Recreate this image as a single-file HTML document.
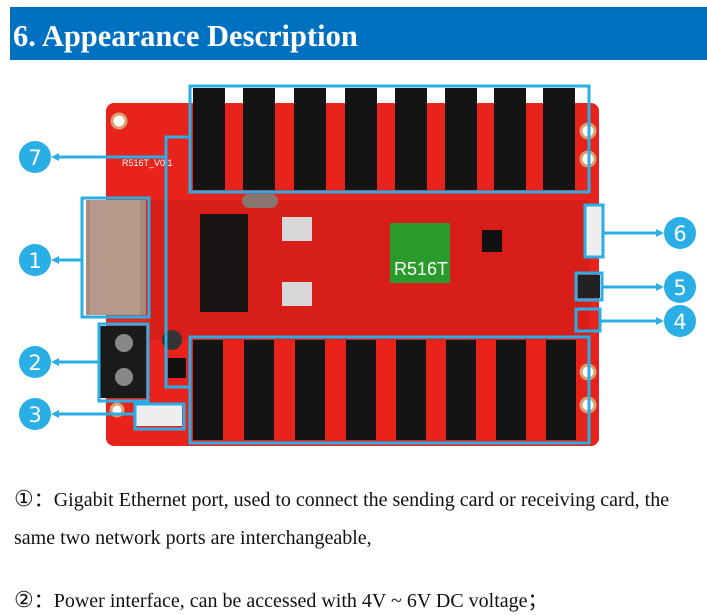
<!DOCTYPE html>
<html><head><meta charset="utf-8"><style>
body{margin:0;width:707px;height:615px;background:#fff;overflow:hidden;font-family:"Liberation Serif",serif;}
.t{position:absolute;left:14px;font-size:20px;color:#111;white-space:nowrap;}
</style></head><body>
<svg width="707" height="615" style="position:absolute;left:0;top:0" xmlns="http://www.w3.org/2000/svg">
<rect x="10" y="7" width="697" height="53" fill="#0070c0"/>
<text x="13" y="46" font-family="Liberation Serif" font-weight="bold" font-size="30.5" fill="#fff">6.  Appearance Description</text>
<rect x="106" y="103" width="493" height="343" rx="8" fill="#e8231c"/>
<rect x="150" y="200" width="440" height="140" fill="#d81e18"/>
<circle cx="119" cy="121" r="7" fill="#fff" stroke="#d9a070" stroke-width="3"/>
<circle cx="588" cy="131" r="7" fill="#fff" stroke="#d9a070" stroke-width="3"/>
<circle cx="588" cy="159" r="7" fill="#fff" stroke="#d9a070" stroke-width="3"/>
<circle cx="588" cy="372" r="7" fill="#fff" stroke="#d9a070" stroke-width="3"/>
<circle cx="588" cy="405" r="7" fill="#fff" stroke="#d9a070" stroke-width="3"/>
<circle cx="117" cy="410" r="6" fill="#fff" stroke="#d9a070" stroke-width="3"/>
<text x="122" y="166" font-family="Liberation Sans" font-size="9" fill="#fff">R516T_V0.1</text>
<rect x="86" y="200" width="60" height="115" fill="#a8897a"/>
<rect x="90" y="200" width="50" height="115" fill="#b59a8c"/>
<rect x="200" y="214" width="48" height="98" fill="#1a1414"/>
<rect x="282" y="217" width="30" height="24" fill="#d8d8d8"/>
<rect x="282" y="282" width="30" height="24" fill="#d8d8d8"/>
<rect x="242" y="194" width="36" height="14" rx="7" fill="#8a7570"/>
<rect x="390" y="223" width="60" height="60" fill="#2a9a2a"/>
<text x="394" y="275" font-family="Liberation Sans" font-size="18" fill="#fff">R516T</text>
<rect x="482" y="230" width="20" height="22" fill="#111"/>
<rect x="100" y="326" width="46" height="72" fill="#1a1a1a"/>
<circle cx="124" cy="343" r="9" fill="#888"/><circle cx="124" cy="377" r="9" fill="#888"/>
<circle cx="172" cy="340" r="10" fill="#333"/>
<rect x="168" y="358" width="18" height="20" fill="#111"/>
<rect x="136" y="405" width="46" height="21" fill="#eee"/>
<g fill="#141414">
<rect x="193" y="88" width="32" height="102"/><rect x="243" y="88" width="32" height="102"/><rect x="294" y="88" width="32" height="102"/><rect x="345" y="88" width="32" height="102"/><rect x="395" y="88" width="32" height="102"/><rect x="445" y="88" width="32" height="102"/><rect x="494" y="88" width="32" height="102"/><rect x="543" y="88" width="32" height="102"/>
<rect x="193" y="340" width="30" height="100"/><rect x="244" y="340" width="30" height="100"/><rect x="295" y="340" width="30" height="100"/><rect x="346" y="340" width="30" height="100"/><rect x="396" y="340" width="30" height="100"/><rect x="446" y="340" width="30" height="100"/><rect x="496" y="340" width="30" height="100"/><rect x="546" y="340" width="30" height="100"/>
</g>
<rect x="585" y="205" width="17" height="52" fill="#eee"/>
<rect x="578" y="275" width="22" height="23" fill="#222"/>
<g fill="none" stroke="#29aee6" stroke-width="3">
<rect x="190" y="86" width="399" height="106"/>
<rect x="190" y="337" width="399" height="106"/>
<rect x="82" y="198" width="67" height="119"/>
<rect x="99" y="324" width="49" height="77"/>
<rect x="135" y="404" width="49" height="25"/>
<rect x="585" y="205" width="18" height="52"/>
<rect x="576" y="273" width="26" height="27"/>
<rect x="576" y="309" width="24" height="22"/>
<polyline points="190,137 166,137 166,387 190,387"/>
<line x1="166" y1="157" x2="55" y2="157"/>
<line x1="82" y1="260" x2="55" y2="260"/>
<line x1="99" y1="362" x2="55" y2="362"/>
<line x1="135" y1="414" x2="55" y2="414"/>
<line x1="603" y1="233" x2="658" y2="233"/>
<line x1="602" y1="287" x2="658" y2="287"/>
<line x1="600" y1="321" x2="658" y2="321"/>
</g>
<g fill="#29aee6">
<polygon points="51,157 59,153 59,161"/><polygon points="51,260 59,256 59,264"/><polygon points="51,362 59,358 59,366"/><polygon points="51,414 59,410 59,418"/>
<polygon points="664,233 656,229 656,237"/><polygon points="664,287 656,283 656,291"/><polygon points="664,321 656,317 656,325"/>
<circle cx="35" cy="157" r="16"/><circle cx="35" cy="260" r="16"/><circle cx="35" cy="362" r="16"/><circle cx="35" cy="414" r="16"/>
<circle cx="680" cy="233" r="16"/><circle cx="680" cy="287" r="16"/><circle cx="680" cy="321" r="16"/>
</g>
<g fill="#fff" font-family="DejaVu Sans" font-size="21" text-anchor="middle">
<text x="35" y="165">7</text><text x="35" y="268">1</text><text x="35" y="370">2</text><text x="35" y="422">3</text>
<text x="680" y="241">6</text><text x="680" y="295">5</text><text x="680" y="329">4</text>
</g>
</svg>
<div class="t" style="top:483px"><span style="font-size:22px">①</span>：Gigabit Ethernet port, used to connect the sending card or receiving card, the</div>
<div class="t" style="top:527px">same two network ports are interchangeable,</div>
<div class="t" style="top:584px"><span style="font-size:22px">②</span>：Power interface, can be accessed with 4V ~ 6V DC voltage；</div>
</body></html>
